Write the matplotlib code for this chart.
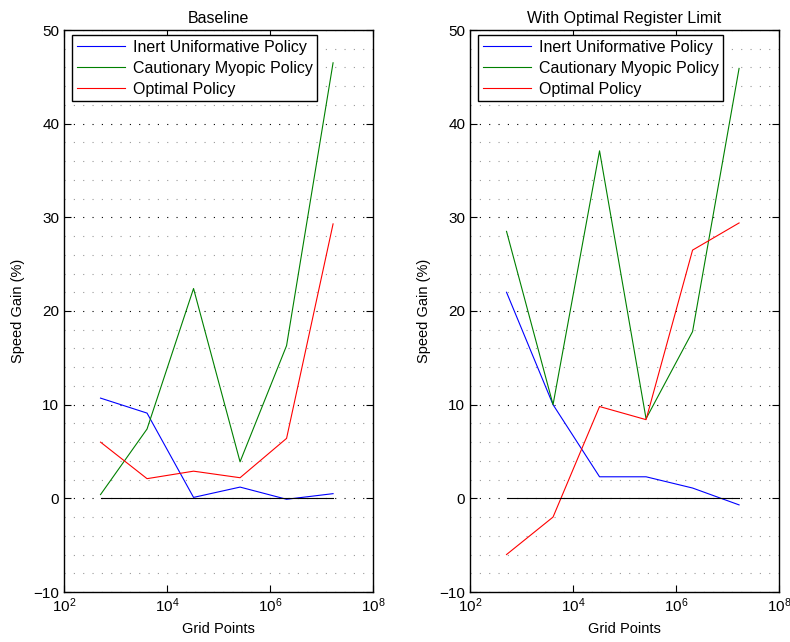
"""
Speed gain vs grid points, two cases
"""

import numpy as np
import matplotlib
matplotlib.use("Agg")
import matplotlib.pyplot as plt
from matplotlib.ticker import MultipleLocator, FixedLocator

plt.rcParams['font.family'] = ['Liberation Sans', 'DejaVu Sans']
plt.rcParams['font.size'] = 10

grid_points = [512, 4096, 32768, 262144, 2097152, 16777216]

titles = ["Baseline", "With Optimal Register Limit"]
labels = ["Inert Uniformative Policy", "Cautionary Myopic Policy", "Optimal Policy"]
colors = [(0, 0, 1), (0, 0.5, 0), (1, 0, 0)]

# Baseline
inert_base = [10.7, 9.1, 0.1, 1.2, -0.1, 0.5]
myopic_base = [0.4, 7.4, 22.4, 3.9, 16.3, 46.5]
optimal_base = [6.0, 2.1, 2.9, 2.2, 6.4, 29.3]

# With optimal register limit
inert_reg = [22.0, 10.0, 2.3, 2.3, 1.1, -0.7]
myopic_reg = [28.5, 10.0, 37.1, 8.5, 17.8, 45.9]
optimal_reg = [-6.0, -2.0, 9.8, 8.4, 26.5, 29.4]

series = [
    [inert_base, myopic_base, optimal_base],
    [inert_reg, myopic_reg, optimal_reg],
]

fig = plt.figure(figsize=(7.9, 6.42), dpi=100)
positions = [[64 / 790, 50 / 642, 309 / 790, 562 / 642],
             [470 / 790, 50 / 642, 309 / 790, 562 / 642]]

for pos, title, data in zip(positions, titles, series):
    ax = fig.add_axes(pos)
    for vals, lab, col in zip(data, labels, colors):
        ax.plot(grid_points, vals, color=col, linewidth=0.8, label=lab)
    ax.plot([grid_points[0], grid_points[-1]], [0, 0], color='black', linewidth=0.8)
    ax.set_xscale('log')
    ax.set_xlim(1e2, 1e8)
    ax.set_ylim(-10, 50)
    ax.xaxis.set_major_locator(FixedLocator([1e2, 1e4, 1e6, 1e8]))
    ax.xaxis.set_minor_locator(FixedLocator([]))
    ax.yaxis.set_major_locator(MultipleLocator(10))
    ax.yaxis.set_minor_locator(MultipleLocator(2))
    ax.yaxis.grid(True, which='major', color='black', linestyle=(0, (1, 7.4)), linewidth=0.8)
    ax.yaxis.grid(True, which='minor', color='0.6', linestyle=(0, (1, 7.4)), linewidth=0.8)
    ax.tick_params(direction='in', top=True, right=True, length=5, width=0.8, labelsize=11)
    ax.tick_params(which='minor', length=0)
    for sp in ax.spines.values():
        sp.set_linewidth(1.0)
    ax.set_title(title, fontsize=11.5, pad=5)
    ax.set_xlabel("Grid Points", fontsize=10.5, labelpad=5)
    ax.set_ylabel("Speed Gain (%)", fontsize=10.5, labelpad=6)
    leg = ax.legend(loc='upper left', bbox_to_anchor=(0.026, 0.991), fontsize=11.5,
                    fancybox=False, framealpha=1, edgecolor='black', borderaxespad=0,
                    handlelength=3.0, handletextpad=0.5, labelspacing=0.37, borderpad=0.3)
    leg.get_frame().set_linewidth(1.0)

fig.savefig("out.png", dpi=100)
